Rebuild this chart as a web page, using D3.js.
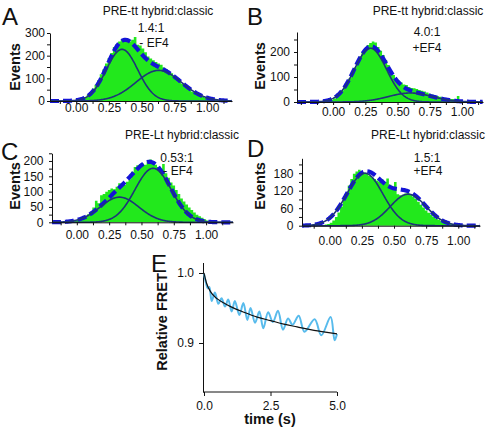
<!DOCTYPE html>
<html><head><meta charset="utf-8">
<script src="https://cdn.jsdelivr.net/npm/d3@7"></script>
<style>
body{margin:0;background:#fff}
svg{display:block}
text{font-family:"Liberation Sans",Arial,Helvetica,sans-serif;fill:#111}
</style>
</head><body>
<svg id="chart" width="490" height="430"></svg>
<script>
// ---------- DATA ----------
const binStart = -0.2, binWidth = 0.02;
const histA = [0,0,0,0,0,1,1,2,2,
  3,4,7,12,18,28,38,55,72,92,
  118,140,165,190,212,238,252,262,270,268,
  275,262,270,282,248,245,232,215,196,188,
  180,172,165,160,148,140,125,122,108,96,
  88,75,65,55,48,40,33,28,24,20,
  14,10,6,4,3,2,1,1,0,0,
  0];
const histB = [0,0,0,0,1,1,2,2,4,
  8,14,22,32,45,60,78,95,115,138,
  158,182,200,215,228,236,242,238,220,205,
  188,168,148,125,108,92,85,78,70,68,
  60,56,55,52,48,45,42,38,33,30,
  27,24,21,19,16,14,12,12,10,24,
  6,3,2,1,1,0,0,0,0,0,
  0];
const histC = [0,0,0,0,0,1,1,2,3,
  5,8,12,15,20,26,35,48,70,62,
  88,92,100,105,110,108,116,127,120,122,
  132,140,165,180,186,190,192,188,198,205,
  195,188,180,175,190,160,145,130,120,105,
  92,78,68,58,48,40,32,25,20,15,
  10,6,3,2,1,1,0,0,0,0,
  0];
const histD = [0,0,0,0,0,1,1,2,4,
  6,10,18,30,45,65,88,112,138,160,
  178,186,192,185,182,178,170,165,160,155,
  150,158,150,162,140,125,150,108,104,106,
  110,112,108,100,92,82,72,62,52,44,
  38,30,25,20,15,12,9,7,5,3,
  2,1,1,0,0,0,0,0,0,0,
  0];

// Gaussian fit components (centre, amplitude, sd)
const fitA = [{mu:0.35, amp:228, sd:0.12}, {mu:0.63, amp:135, sd:0.175}];
const fitB = [{mu:0.29, amp:215, sd:0.125}, {mu:0.60, amp:36, sd:0.17}];
const fitC = [{mu:0.33, amp:82, sd:0.15}, {mu:0.59, amp:176, sd:0.14}];
const fitD = [{mu:0.273, amp:180, sd:0.14}, {mu:0.61, amp:108, sd:0.14}];

const xTickValues = [0, 0.25, 0.5, 0.75, 1.0];
const xTickLabels = ["0.00", "0.25", "0.50", "0.75", "1.00"];
const yTicksA = [0, 100, 200, 300];
const yTicksB = [0, 100, 200];
const yTicksC = [0, 50, 100, 150, 200];
const yTicksD = [0, 60, 120, 180];

const panelLetters = ["A", "B", "C", "D"];
const panelTitles = ["PRE-tt hybrid:classic", "PRE-tt hybrid:classic", "PRE-Lt hybrid:classic", "PRE-Lt hybrid:classic"];
const ratioLabels = ["1.4:1", "4.0:1", "0.53:1", "1.5:1"];
const ef4Labels = ["- EF4", "+EF4", "- EF4", "+EF4"];
const yAxisTitle = "Events";

// Panel E
const eTime = [0, 0.08, 0.14, 0.2, 0.29, 0.41, 0.54, 0.66, 0.79, 0.91, 1.04, 1.16, 1.33, 1.48, 1.63, 1.75, 1.92, 2.08, 2.23, 2.41, 2.59, 2.78, 2.97, 3.16, 3.33, 3.56, 3.78, 4.16, 4.41, 4.76, 4.91, 5.0];
const eFret = [0.999, 0.985, 0.978, 0.980, 0.960, 0.972, 0.956, 0.964, 0.952, 0.962, 0.945, 0.960, 0.940, 0.957, 0.933, 0.950, 0.929, 0.945, 0.921, 0.944, 0.930, 0.946, 0.919, 0.935, 0.926, 0.939, 0.916, 0.934, 0.911, 0.937, 0.904, 0.913];
const eFitTime = [0, 0.1, 0.25, 0.5, 0.75, 1, 1.5, 2, 2.5, 3, 3.5, 4, 4.5, 5];
const eFitFret = [1.0, 0.985, 0.973, 0.963, 0.957, 0.952, 0.944, 0.937, 0.932, 0.927, 0.923, 0.919, 0.916, 0.913];
const eXTicks = [0, 2.5, 5];
const eXTickLabels = ["0.0", "2.5", "5.0"];
const eYTicks = [0.9, 1.0];
const eYTickLabels = ["0.9", "1.0"];
const eLetter = "E", eXTitle = "time (s)", eYTitle = "Relative FRET";

// ---------- LAYOUT ----------
const layout = [
  {xd:[-0.2,1.19], xr:[50,232], yd:[0,300], yr:[101,33], minor:50, yTicks:yTicksA, xLab:11, yPad:2,
   letter:[2,25], title:[158,15], ratio:[151,32], ef4:[154,47], events:[15,67]},
  {xd:[-0.28,1.163], xr:[297,483], yd:[0,280], yr:[102,32], minor:50, yTicks:yTicksB, xLab:14, yPad:4,
   letter:[247,25], title:[428,15], ratio:[427,36], ef4:[427,52], events:[260,66]},
  {xd:[-0.192,1.208], xr:[52,233], yd:[0,225], yr:[222.3,153.3], minor:25, yTicks:yTicksC, xLab:17, yPad:5.5,
   letter:[1,160], title:[182,139], ratio:[177,162], ef4:[178,175], events:[15,186]},
  {xd:[-0.216,1.169], xr:[302,480], yd:[0,231], yr:[225.7,158.3], minor:30, yTicks:yTicksD, xLab:19, yPad:5.5,
   letter:[247,157], title:[428,139], ratio:[427,162], ef4:[428,175], events:[260,186]}
];
const hists = [histA, histB, histC, histD];
const fits = [fitA, fitB, fitC, fitD];

const GREEN = "#22e81c", DASH = "#1414d6", NAVY = "#1d3579";
const svg = d3.select("#chart");

function gauss(c, x) { return c.amp * Math.exp(-((x - c.mu) ** 2) / (2 * c.sd * c.sd)); }

layout.forEach((L, i) => {
  const g = svg.append("g");
  const sx = d3.scaleLinear().domain(L.xd).range(L.xr);
  const sy = d3.scaleLinear().domain(L.yd).range(L.yr);
  const hist = hists[i], fit = fits[i];

  // histogram bars (drawn as one stepped area so adjacent bars have no seams)
  const pts = hist.map((v, k) => [binStart + k * binWidth, v]);
  pts.push([binStart + hist.length * binWidth, hist[hist.length - 1]]);
  g.append("path")
    .attr("d", d3.area().x(d => sx(d[0])).y0(sy(0)).y1(d => sy(d[1])).curve(d3.curveStepAfter)(pts))
    .attr("fill", GREEN);

  // fit curves
  const xs = d3.range(L.xd[0], L.xd[1] + 1e-9, 0.004);
  const line = d3.line().x(d => sx(d[0])).y(d => sy(d[1]));
  const sumPts = xs.map(x => [x, fit.reduce((s, c) => s + gauss(c, x), 0)]);
  g.append("path").attr("d", line(sumPts)).attr("fill", "none")
    .attr("stroke", DASH).attr("stroke-width", 4.2).attr("stroke-dasharray", "9,4");
  fit.forEach(c => {
    g.append("path").attr("d", line(xs.map(x => [x, gauss(c, x)]))).attr("fill", "none")
      .attr("stroke", NAVY).attr("stroke-width", 1.6);
  });

  // axes
  const xMinor = d3.range(Math.ceil(L.xd[0] / 0.125) * 0.125, L.xd[1] + 1e-9, 0.125);
  const xAxis = d3.axisBottom(sx).tickValues(xMinor).tickSize(3).tickSizeOuter(0)
    .tickPadding(L.xLab - 3 - 8.5)
    .tickFormat(v => { const j = xTickValues.findIndex(t => Math.abs(t - v) < 1e-6); return j >= 0 ? xTickLabels[j] : ""; });
  const ax = g.append("g").attr("transform", `translate(0,${L.yr[0]})`).call(xAxis);
  const yMinor = d3.range(0, L.yd[1] + 1e-9, L.minor);
  const yAxis = d3.axisLeft(sy).tickValues(yMinor).tickSize(3).tickSizeOuter(0).tickPadding(L.yPad)
    .tickFormat(v => L.yTicks.includes(v) ? String(v) : "");
  const ay = g.append("g").attr("transform", `translate(${L.xr[0]},0)`).call(yAxis);
  [ax, ay].forEach(a => {
    a.selectAll("text").style("font-size", "12px").style("font-family", '"Liberation Sans",Arial,sans-serif').attr("fill", "#111");
    a.selectAll("line,path").attr("stroke", "#111");
  });

  // texts
  g.append("text").attr("x", L.letter[0]).attr("y", L.letter[1]).style("font-size", "24px").text(panelLetters[i]);
  g.append("text").attr("x", L.title[0]).attr("y", L.title[1]).attr("text-anchor", "middle").style("font-size", "12px").text(panelTitles[i]);
  g.append("text").attr("x", L.ratio[0]).attr("y", L.ratio[1]).attr("text-anchor", "middle").style("font-size", "12px").text(ratioLabels[i]);
  g.append("text").attr("x", L.ef4[0]).attr("y", L.ef4[1]).attr("text-anchor", "middle").style("font-size", "12px").text(ef4Labels[i]);
  g.append("text").attr("transform", `translate(${L.events[0] + 5},${L.events[1]}) rotate(-90)`)
    .attr("text-anchor", "middle").style("font-size", "14.5px").style("font-weight", "bold").text(yAxisTitle);
});

// ---------- Panel E ----------
{
  const g = svg.append("g");
  const sx = d3.scaleLinear().domain([0, 5]).range([204, 337]);
  const sy = d3.scaleLinear().domain([0.83, 1.015]).range([392, 262.5]);
  const xAxis = d3.axisBottom(sx).tickValues(eXTicks).tickSize(4).tickSizeOuter(0).tickPadding(5)
    .tickFormat((v, k) => eXTickLabels[k]);
  const yAxis = d3.axisLeft(sy).tickValues(eYTicks).tickSize(4).tickSizeOuter(0).tickPadding(5)
    .tickFormat((v, k) => eYTickLabels[k]);
  const ax = g.append("g").attr("transform", "translate(0,392)").call(xAxis);
  const ay = g.append("g").attr("transform", "translate(203,0)").call(yAxis);
  ax.select(".domain").attr("d", "M203,0H337");
  [ax, ay].forEach(a => {
    a.selectAll("text").style("font-size", "12px").style("font-family", '"Liberation Sans",Arial,sans-serif').attr("fill", "#111");
    a.selectAll("line,path").attr("stroke", "#111");
  });
  const pts = eTime.map((t, k) => [t, eFret[k]]);
  g.append("path").attr("d", d3.line().x(d => sx(d[0])).y(d => sy(d[1])).curve(d3.curveCatmullRom.alpha(0.5))(pts))
    .attr("fill", "none").attr("stroke", "#58bbec").attr("stroke-width", 2);
  const fpts = eFitTime.map((t, k) => [t, eFitFret[k]]);
  g.append("path").attr("d", d3.line().x(d => sx(d[0])).y(d => sy(d[1])).curve(d3.curveMonotoneX)(fpts))
    .attr("fill", "none").attr("stroke", "#111").attr("stroke-width", 1.2);
  g.append("text").attr("x", 151).attr("y", 272).style("font-size", "24px").text(eLetter);
  g.append("text").attr("x", 270).attr("y", 424).attr("text-anchor", "middle")
    .style("font-size", "14.5px").style("font-weight", "bold").text(eXTitle);
  g.append("text").attr("transform", "translate(167,322) rotate(-90)").attr("text-anchor", "middle")
    .style("font-size", "14.5px").style("font-weight", "bold").text(eYTitle);
}
</script>
</body></html>
